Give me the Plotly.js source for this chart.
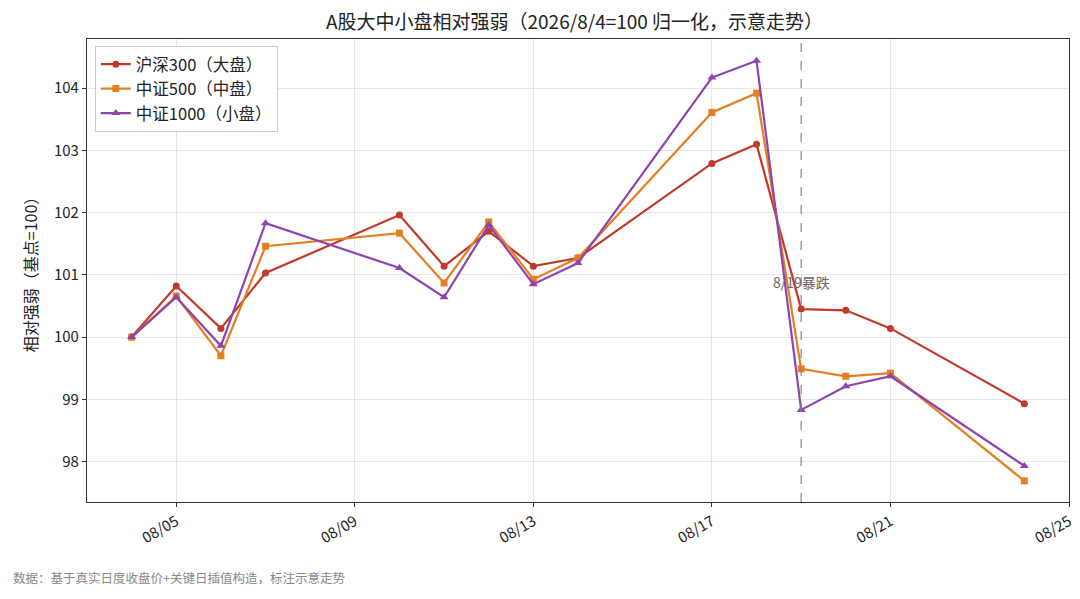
<!DOCTYPE html>
<html>
<head>
<meta charset="utf-8">
<script src="https://cdn.plot.ly/plotly-3.0.1.min.js"></script>
<style>
  body { margin: 0; background: #fff; }
  #chart { width: 1080px; height: 599px; }
</style>
</head>
<body>
<div id="chart"></div>
<script>
var dates = ['2026-08-04', '2026-08-05', '2026-08-06', '2026-08-07', '2026-08-10',
  '2026-08-11', '2026-08-12', '2026-08-13', '2026-08-14', '2026-08-17',
  '2026-08-18', '2026-08-19', '2026-08-20', '2026-08-21', '2026-08-24'];

var hs300 = [100, 100.82, 100.14, 101.03, 101.96, 101.14, 101.70, 101.14, 101.27,
  102.79, 103.10, 100.45, 100.43, 100.14, 98.93];
var zz500 = [100, 100.66, 99.70, 101.46, 101.67, 100.87, 101.85, 100.93, 101.27,
  103.61, 103.92, 99.49, 99.37, 99.42, 97.69];
var zz1000 = [100, 100.64, 99.86, 101.83, 101.11, 100.64, 101.80, 100.85, 101.19,
  104.17, 104.44, 98.83, 99.21, 99.37, 97.93];

var seriesNames = ['沪深300（大盘）', '中证500（中盘）', '中证1000（小盘）'];
var crashDay = '2026-08-19';
var crashLabel = '8/19暴跌';

var font = '"Noto Sans CJK SC", "Noto Sans", sans-serif';

function line(y, name, color, symbol, size) {
  return {
    x: dates, y: y, name: name,
    type: 'scatter', mode: 'lines+markers',
    line: { color: color, width: 2.2 },
    marker: { color: color, symbol: symbol, size: size }
  };
}

var data = [
  line(hs300, seriesNames[0], '#c0392b', 'circle', 7),
  line(zz500, seriesNames[1], '#e67e22', 'square', 7),
  line(zz1000, seriesNames[2], '#8e44ad', 'triangle-up', 8)
];

var layout = {
  width: 1080, height: 599,
  margin: { l: 87, r: 11, t: 39, b: 97 },
  paper_bgcolor: '#fff', plot_bgcolor: '#fff',
  font: { family: font, size: 15, color: '#222' },
  title: {
    text: 'A股大中小盘相对强弱（2026/8/4=100 归一化，示意走势）',
    font: { size: 19, color: '#222' },
    x: 0.532, xanchor: 'center', y: 0.963, yanchor: 'middle'
  },
  xaxis: {
    type: 'date',
    range: ['2026-08-03', '2026-08-25'],
    tick0: '2026-08-05', dtick: 4 * 86400000,
    tickformat: '%m/%d', tickangle: -30,
    ticks: 'outside', ticklen: 4, tickcolor: '#333',
    showgrid: true, gridcolor: '#e6e6e6',
    showline: true, linecolor: '#333', linewidth: 1.2, mirror: true,
    zeroline: false,
    tickfont: { size: 15, color: '#222' }
  },
  yaxis: {
    range: [97.35, 104.79],
    dtick: 1,
    ticks: 'outside', ticklen: 4, tickcolor: '#333',
    showgrid: true, gridcolor: '#e6e6e6',
    showline: true, linecolor: '#333', linewidth: 1.2, mirror: true,
    zeroline: false,
    title: { text: '相对强弱（基点=100）', font: { size: 16, color: '#222' }, standoff: 12 },
    tickfont: { size: 15, color: '#222' }
  },
  legend: {
    x: 0.008, y: 0.985, xanchor: 'left', yanchor: 'top',
    bgcolor: 'rgba(255,255,255,0.9)', bordercolor: '#ccc', borderwidth: 1,
    font: { size: 16.5, color: '#222' }
  },
  shapes: [{
    type: 'line', xref: 'x', yref: 'paper',
    x0: crashDay, x1: crashDay, y0: 0, y1: 1,
    line: { color: '#888', width: 1.2, dash: 'dash' }
  }],
  annotations: [{
    x: crashDay, y: 100.88, xref: 'x', yref: 'y',
    text: crashLabel, showarrow: false,
    font: { size: 14, color: '#666' },
    xanchor: 'center', yanchor: 'middle'
  }, {
    x: -0.077, y: -0.164, xref: 'paper', yref: 'paper',
    text: '数据：基于真实日度收盘价+关键日插值构造，标注示意走势',
    showarrow: false, xanchor: 'left', yanchor: 'middle',
    font: { size: 12.5, color: '#888' }
  }]
};

Plotly.newPlot('chart', data, layout, { displayModeBar: false });
</script>
</body>
</html>
